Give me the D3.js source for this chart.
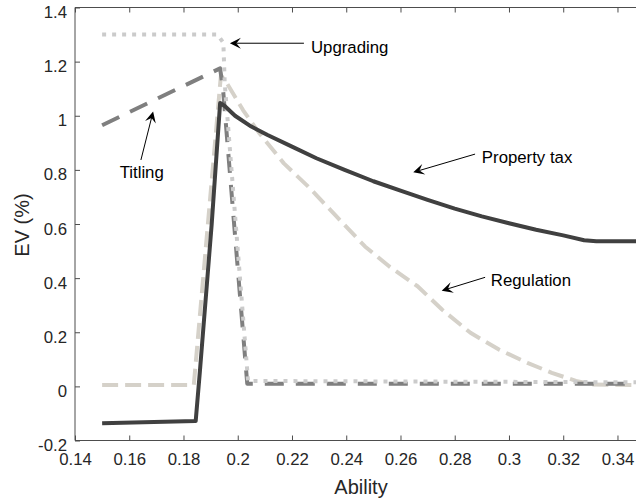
<!DOCTYPE html>
<html>
<head>
<meta charset="utf-8">
<script src="https://cdn.jsdelivr.net/npm/d3@7"></script>
<style>
  html, body { margin: 0; padding: 0; background: #fff; }
  svg { display: block; font-family: "Liberation Sans", Arial, sans-serif; }
</style>
</head>
<body>
<svg id="chart" width="636" height="504"></svg>
<script>
// ---------- data ----------
const xTicks = [0.14, 0.16, 0.18, 0.2, 0.22, 0.24, 0.26, 0.28, 0.3, 0.32, 0.34];
const xTickLabels = ["0.14", "0.16", "0.18", "0.2", "0.22", "0.24", "0.26", "0.28", "0.3", "0.32", "0.34"];
const yTicks = [-0.2, 0, 0.2, 0.4, 0.6, 0.8, 1, 1.2, 1.4];
const yTickLabels = ["-0.2", "0", "0.2", "0.4", "0.6", "0.8", "1", "1.2", "1.4"];

const abilityReg = [0.15, 0.1838, 0.1938, 0.196, 0.202, 0.208, 0.217, 0.226, 0.2364, 0.2469, 0.2559, 0.2663, 0.2753, 0.2858, 0.2963, 0.3068, 0.3158, 0.3247, 0.3307, 0.35];
const regulation = [0.005, 0.005, 1.15, 1.12, 1.02, 0.935, 0.824, 0.738, 0.628, 0.517, 0.443, 0.37, 0.284, 0.198, 0.136, 0.087, 0.05, 0.02, 0.007, 0.005];

const abilityTit = [0.15, 0.1935, 0.1946, 0.2035, 0.35];
const titling = [0.965, 1.175, 1.095, 0.01, 0.01];

const abilityUpg = [0.15, 0.1925, 0.1947, 0.1952, 0.2038, 0.35];
const upgrading = [1.30, 1.30, 1.27, 1.12, 0.02, 0.015];

const abilityPT = [0.15, 0.1845, 0.186, 0.1904, 0.1935, 0.1952, 0.199, 0.205, 0.211, 0.22, 0.229, 0.2394, 0.25, 0.26, 0.27, 0.28, 0.29, 0.30, 0.31, 0.32, 0.3277, 0.3322, 0.35];
const propertyTax = [-0.136, -0.128, 0.05, 0.60, 1.047, 1.036, 1.0, 0.96, 0.929, 0.886, 0.843, 0.80, 0.758, 0.723, 0.689, 0.657, 0.628, 0.603, 0.579, 0.558, 0.540, 0.536, 0.536];

// annotations
const annNames = ["Upgrading", "Titling", "Property tax", "Regulation"];
const annTail = [[0.2244, 1.268], [0.1643, 0.8365], [0.2875, 0.8583], [0.2912, 0.403]];
const annTip = [[0.1971, 1.268], [0.1688, 1.0153], [0.2647, 0.791], [0.2752, 0.3535]];
const annText = [[0.227, 1.253], [0.1646, 0.791], [0.29, 0.846], [0.2933, 0.393]];
const annAnchor = ["start", "middle", "start", "start"];

// ---------- layout ----------
const svg = d3.select("#chart");
const x = d3.scaleLinear().domain([0.14, 0.35]).range([75, 644.6]);
const y = d3.scaleLinear().domain([-0.2, 1.4]).range([440.5, 7.5]);
const pLeft = 75, pRight = 644.6, pTop = 7.5, pBottom = 440.5;

svg.append("defs").append("clipPath").attr("id", "plotclip")
  .append("rect").attr("x", pLeft).attr("y", pTop).attr("width", pRight - pLeft).attr("height", pBottom - pTop);

const plot = svg.append("g").attr("clip-path", "url(#plotclip)");
const line = d3.line().x(d => x(d[0])).y(d => y(d[1]));
const zip = (a, b) => a.map((v, i) => [v, b[i]]);

const series = [
  { xs: abilityReg, ys: regulation, color: "#d5d1c9", dash: "16,7" },
  { xs: abilityTit, ys: titling, color: "#7f7f7f", dash: "19,12" },
  { xs: abilityUpg, ys: upgrading, color: "#cbcbcb", dash: "4,6" },
  { xs: abilityPT, ys: propertyTax, color: "#404040", dash: null }
];
series.forEach(s => {
  const p = plot.append("path")
    .attr("d", line(zip(s.xs, s.ys)))
    .attr("fill", "none")
    .attr("stroke", s.color)
    .attr("stroke-width", 4)
    .attr("stroke-linejoin", "round");
  if (s.dash) p.attr("stroke-dasharray", s.dash);
});

// ---------- axes ----------
const axisColor = "#4d4d4d";
const textColor = "#262626";
const xAxis = d3.axisBottom(x).tickValues(xTicks).tickFormat((d, i) => xTickLabels[i]).tickSize(-5).tickPadding(14);
const gx = svg.append("g").attr("transform", `translate(0,${pBottom})`).call(xAxis);
const xAxisTop = d3.axisTop(x).tickValues(xTicks).tickFormat("").tickSize(-5);
const gxt = svg.append("g").attr("transform", `translate(0,${pTop})`).call(xAxisTop);
const yAxis = d3.axisLeft(y).tickValues(yTicks).tickFormat((d, i) => yTickLabels[i]).tickSize(-5).tickPadding(8);
const gy = svg.append("g").attr("transform", `translate(${pLeft},0)`).call(yAxis);

[gx, gxt, gy].forEach(g => {
  g.select(".domain").attr("stroke", axisColor).attr("stroke-width", 1);
  g.selectAll(".tick line").attr("stroke", axisColor);
  g.selectAll(".tick text").attr("fill", textColor).attr("font-size", 16.8)
    .attr("font-family", "Liberation Sans, Arial, sans-serif");
});
gx.select(".domain").attr("d", `M${pLeft},0H${pRight}`);
gxt.select(".domain").attr("d", `M${pLeft},0H${pRight}`);
gy.select(".domain").attr("d", `M0,${pBottom}V${pTop}`);
gy.selectAll(".tick text").attr("dy", "0.6em");
gx.selectAll(".tick text").attr("dy", "0.65em");

// axis titles
svg.append("text").attr("x", 361).attr("y", 494).attr("text-anchor", "middle")
  .attr("font-size", 20).attr("fill", textColor).text("Ability");
svg.append("text").attr("transform", "translate(29,225) rotate(-90)").attr("text-anchor", "middle")
  .attr("font-size", 20).attr("fill", textColor).text("EV (%)");

// ---------- annotations ----------
const ann = svg.append("g");
annNames.forEach((name, i) => {
  const x0 = x(annTail[i][0]), y0 = y(annTail[i][1]);
  const x1 = x(annTip[i][0]), y1 = y(annTip[i][1]);
  const ang = Math.atan2(y1 - y0, x1 - x0);
  const L = 11, W = 5.5, notch = 6.5;
  const ux = Math.cos(ang), uy = Math.sin(ang);
  const px = -uy, py = ux;
  const bx = x1 - ux * L, by = y1 - uy * L;
  const nx = x1 - ux * notch, ny = y1 - uy * notch;
  ann.append("line").attr("x1", x0).attr("y1", y0).attr("x2", nx).attr("y2", ny)
    .attr("stroke", "#000").attr("stroke-width", 1);
  ann.append("path")
    .attr("d", `M${x1},${y1}L${bx + px * W},${by + py * W}L${nx},${ny}L${bx - px * W},${by - py * W}Z`)
    .attr("fill", "#000");
  ann.append("text").attr("x", x(annText[i][0])).attr("y", y(annText[i][1]))
    .attr("dy", "0.35em").attr("text-anchor", annAnchor[i])
    .attr("font-size", 16.8).attr("fill", "#000").text(name);
});
</script>
</body>
</html>
